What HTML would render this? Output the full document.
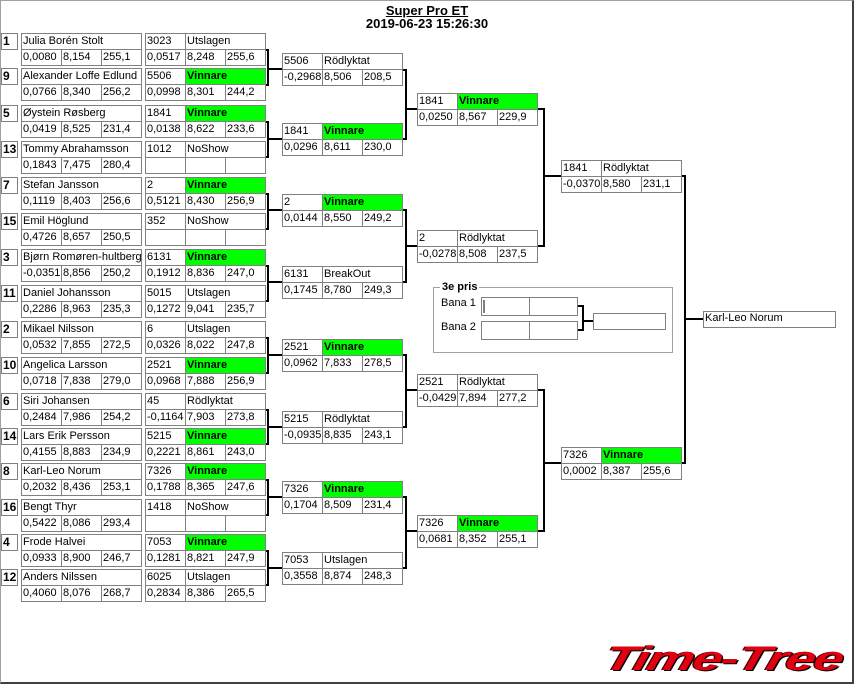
<!DOCTYPE html>
<html><head><meta charset="utf-8">
<style>
*{box-sizing:border-box;margin:0;padding:0}
body{width:854px;height:684px;background:#fff;position:relative;overflow:hidden;font-family:"Liberation Sans",sans-serif;font-size:11px;color:#000}
#frame{position:absolute;left:0;top:0;width:854px;height:684px;border-left:1px solid #a0a0a0;border-top:1px solid #a0a0a0;border-right:2px solid #404040;border-bottom:2px solid #404040}
.m{position:absolute;display:grid;grid-template-columns:40px 40px 40px;grid-auto-rows:16px;border-left:1px solid #808080;border-top:1px solid #808080;width:121px}
.m div{border-right:1px solid #808080;border-bottom:1px solid #808080;padding-left:1px;line-height:15px;white-space:nowrap;overflow:hidden}
.m .s2{grid-column:span 2}.m .s3{grid-column:span 3}
.m .g{background:#00ff00;font-weight:bold}
.sd{position:absolute;left:1px;width:17px;height:17px;border:1px solid #808080;font-weight:bold;font-size:12px;line-height:15px;padding-left:1px}
.t{position:absolute;font-weight:bold;font-size:13px;text-align:center;width:854px;left:0}
svg{position:absolute;left:0;top:0}
</style></head><body>
<div id="frame"></div>
<div class="t" style="top:3px;text-decoration:underline">Super Pro ET</div>
<div class="t" style="top:16px">2019-06-23 15:26:30</div>

<svg width="854" height="684">
<g fill="none" stroke="#000" stroke-width="2">
<path d="M265 50H268V85H265M268 69H282"/>
<path d="M265 122H268V157H265M268 139H282"/>
<path d="M265 194H268V229H265M268 210H282"/>
<path d="M265 266H268V301H265M268 282H282"/>
<path d="M265 338H268V373H265M268 355H282"/>
<path d="M265 410H268V444H265M268 427H282"/>
<path d="M265 480H268V515H265M268 497H282"/>
<path d="M265 551H268V585H265M268 568H282"/>
<path d="M402 70H406V139H402M406 109H417"/>
<path d="M402 210H406V282H402M406 246H417"/>
<path d="M402 355H406V427H402M406 390H417"/>
<path d="M402 497H406V568H402M406 531H417"/>
<path d="M537 109H544V246H537M544 176H561"/>
<path d="M537 390H544V531H537M544 463H561"/>
<path d="M681 176H685V463H681M685 319H703"/>
<path d="M577 306H583V330H577M583 321H593"/>
</g>
<rect x="433.5" y="287.5" width="239" height="65" fill="none" stroke="#a0a0a0"/>
<g fill="none" stroke="#808080">
<rect x="481.5" y="297.5" width="96" height="18"/><line x1="529.5" y1="297" x2="529.5" y2="316"/>
<rect x="481.5" y="321.5" width="96" height="18"/><line x1="529.5" y1="321" x2="529.5" y2="340"/>
<rect x="593.5" y="313.5" width="72" height="16"/>
<rect x="703.5" y="311.5" width="132" height="16"/>
</g>
<line x1="484" y1="300" x2="484" y2="313" stroke="#000"/>
</svg>
<div style="position:absolute;left:440px;top:281px;background:#fff;font-weight:bold;padding:0 2px">3e pris</div>
<div style="position:absolute;left:441px;top:297px">Bana 1</div>
<div style="position:absolute;left:441px;top:321px">Bana 2</div>
<div style="position:absolute;left:705px;top:312px">Karl-Leo Norum</div>

<!-- Round 1 -->
<div class="sd" style="top:33px">1</div>
<div class="m" style="left:21px;top:33px"><div class="s3">Julia Borén Stolt</div><div>0,0080</div><div>8,154</div><div>255,1</div></div>
<div class="m" style="left:145px;top:33px"><div>3023</div><div class="s2">Utslagen</div><div>0,0517</div><div>8,248</div><div>255,6</div></div>
<div class="sd" style="top:68px">9</div>
<div class="m" style="left:21px;top:68px"><div class="s3">Alexander Loffe Edlund</div><div>0,0766</div><div>8,340</div><div>256,2</div></div>
<div class="m" style="left:145px;top:68px"><div>5506</div><div class="s2 g">Vinnare</div><div>0,0998</div><div>8,301</div><div>244,2</div></div>

<div class="sd" style="top:105px">5</div>
<div class="m" style="left:21px;top:105px"><div class="s3">Øystein Røsberg</div><div>0,0419</div><div>8,525</div><div>231,4</div></div>
<div class="m" style="left:145px;top:105px"><div>1841</div><div class="s2 g">Vinnare</div><div>0,0138</div><div>8,622</div><div>233,6</div></div>
<div class="sd" style="top:141px">13</div>
<div class="m" style="left:21px;top:141px"><div class="s3">Tommy Abrahamsson</div><div>0,1843</div><div>7,475</div><div>280,4</div></div>
<div class="m" style="left:145px;top:141px"><div>1012</div><div class="s2">NoShow</div><div></div><div></div><div></div></div>

<div class="sd" style="top:177px">7</div>
<div class="m" style="left:21px;top:177px"><div class="s3">Stefan Jansson</div><div>0,1119</div><div>8,403</div><div>256,6</div></div>
<div class="m" style="left:145px;top:177px"><div>2</div><div class="s2 g">Vinnare</div><div>0,5121</div><div>8,430</div><div>256,9</div></div>
<div class="sd" style="top:213px">15</div>
<div class="m" style="left:21px;top:213px"><div class="s3">Emil Höglund</div><div>0,4726</div><div>8,657</div><div>250,5</div></div>
<div class="m" style="left:145px;top:213px"><div>352</div><div class="s2">NoShow</div><div></div><div></div><div></div></div>

<div class="sd" style="top:249px">3</div>
<div class="m" style="left:21px;top:249px"><div class="s3">Bjørn Romøren-hultberg</div><div>-0,0351</div><div>8,856</div><div>250,2</div></div>
<div class="m" style="left:145px;top:249px"><div>6131</div><div class="s2 g">Vinnare</div><div>0,1912</div><div>8,836</div><div>247,0</div></div>
<div class="sd" style="top:285px">11</div>
<div class="m" style="left:21px;top:285px"><div class="s3">Daniel Johansson</div><div>0,2286</div><div>8,963</div><div>235,3</div></div>
<div class="m" style="left:145px;top:285px"><div>5015</div><div class="s2">Utslagen</div><div>0,1272</div><div>9,041</div><div>235,7</div></div>

<div class="sd" style="top:321px">2</div>
<div class="m" style="left:21px;top:321px"><div class="s3">Mikael Nilsson</div><div>0,0532</div><div>7,855</div><div>272,5</div></div>
<div class="m" style="left:145px;top:321px"><div>6</div><div class="s2">Utslagen</div><div>0,0326</div><div>8,022</div><div>247,8</div></div>
<div class="sd" style="top:357px">10</div>
<div class="m" style="left:21px;top:357px"><div class="s3">Angelica Larsson</div><div>0,0718</div><div>7,838</div><div>279,0</div></div>
<div class="m" style="left:145px;top:357px"><div>2521</div><div class="s2 g">Vinnare</div><div>0,0968</div><div>7,888</div><div>256,9</div></div>

<div class="sd" style="top:393px">6</div>
<div class="m" style="left:21px;top:393px"><div class="s3">Siri Johansen</div><div>0,2484</div><div>7,986</div><div>254,2</div></div>
<div class="m" style="left:145px;top:393px"><div>45</div><div class="s2">Rödlyktat</div><div>-0,1164</div><div>7,903</div><div>273,8</div></div>
<div class="sd" style="top:428px">14</div>
<div class="m" style="left:21px;top:428px"><div class="s3">Lars Erik Persson</div><div>0,4155</div><div>8,883</div><div>234,9</div></div>
<div class="m" style="left:145px;top:428px"><div>5215</div><div class="s2 g">Vinnare</div><div>0,2221</div><div>8,861</div><div>243,0</div></div>

<div class="sd" style="top:463px">8</div>
<div class="m" style="left:21px;top:463px"><div class="s3">Karl-Leo Norum</div><div>0,2032</div><div>8,436</div><div>253,1</div></div>
<div class="m" style="left:145px;top:463px"><div>7326</div><div class="s2 g">Vinnare</div><div>0,1788</div><div>8,365</div><div>247,6</div></div>
<div class="sd" style="top:499px">16</div>
<div class="m" style="left:21px;top:499px"><div class="s3">Bengt Thyr</div><div>0,5422</div><div>8,086</div><div>293,4</div></div>
<div class="m" style="left:145px;top:499px"><div>1418</div><div class="s2">NoShow</div><div></div><div></div><div></div></div>

<div class="sd" style="top:534px">4</div>
<div class="m" style="left:21px;top:534px"><div class="s3">Frode Halvei</div><div>0,0933</div><div>8,900</div><div>246,7</div></div>
<div class="m" style="left:145px;top:534px"><div>7053</div><div class="s2 g">Vinnare</div><div>0,1281</div><div>8,821</div><div>247,9</div></div>
<div class="sd" style="top:569px">12</div>
<div class="m" style="left:21px;top:569px"><div class="s3">Anders Nilssen</div><div>0,4060</div><div>8,076</div><div>268,7</div></div>
<div class="m" style="left:145px;top:569px"><div>6025</div><div class="s2">Utslagen</div><div>0,2834</div><div>8,386</div><div>265,5</div></div>

<!-- Round 2 -->
<div class="m" style="left:282px;top:53px"><div>5506</div><div class="s2">Rödlyktat</div><div>-0,2968</div><div>8,506</div><div>208,5</div></div>
<div class="m" style="left:282px;top:123px"><div>1841</div><div class="s2 g">Vinnare</div><div>0,0296</div><div>8,611</div><div>230,0</div></div>
<div class="m" style="left:282px;top:194px"><div>2</div><div class="s2 g">Vinnare</div><div>0,0144</div><div>8,550</div><div>249,2</div></div>
<div class="m" style="left:282px;top:266px"><div>6131</div><div class="s2">BreakOut</div><div>0,1745</div><div>8,780</div><div>249,3</div></div>
<div class="m" style="left:282px;top:339px"><div>2521</div><div class="s2 g">Vinnare</div><div>0,0962</div><div>7,833</div><div>278,5</div></div>
<div class="m" style="left:282px;top:411px"><div>5215</div><div class="s2">Rödlyktat</div><div>-0,0935</div><div>8,835</div><div>243,1</div></div>
<div class="m" style="left:282px;top:481px"><div>7326</div><div class="s2 g">Vinnare</div><div>0,1704</div><div>8,509</div><div>231,4</div></div>
<div class="m" style="left:282px;top:552px"><div>7053</div><div class="s2">Utslagen</div><div>0,3558</div><div>8,874</div><div>248,3</div></div>

<!-- Round 3 -->
<div class="m" style="left:417px;top:93px"><div>1841</div><div class="s2 g">Vinnare</div><div>0,0250</div><div>8,567</div><div>229,9</div></div>
<div class="m" style="left:417px;top:230px"><div>2</div><div class="s2">Rödlyktat</div><div>-0,0278</div><div>8,508</div><div>237,5</div></div>
<div class="m" style="left:417px;top:374px"><div>2521</div><div class="s2">Rödlyktat</div><div>-0,0429</div><div>7,894</div><div>277,2</div></div>
<div class="m" style="left:417px;top:515px"><div>7326</div><div class="s2 g">Vinnare</div><div>0,0681</div><div>8,352</div><div>255,1</div></div>

<!-- Round 4 -->
<div class="m" style="left:561px;top:160px"><div>1841</div><div class="s2">Rödlyktat</div><div>-0,0370</div><div>8,580</div><div>231,1</div></div>
<div class="m" style="left:561px;top:447px"><div>7326</div><div class="s2 g">Vinnare</div><div>0,0002</div><div>8,387</div><div>255,6</div></div>

<div style="position:absolute;left:610px;top:640px;font-family:'Liberation Sans',sans-serif;font-weight:bold;font-style:italic;font-size:34px;color:#e00010;letter-spacing:-1px;transform:skewX(-15deg) scaleX(1.56);transform-origin:left top;text-shadow:1px 1px 0 #000,-1px 0 0 #400;line-height:38px">Time-Tree</div>
</body></html>
